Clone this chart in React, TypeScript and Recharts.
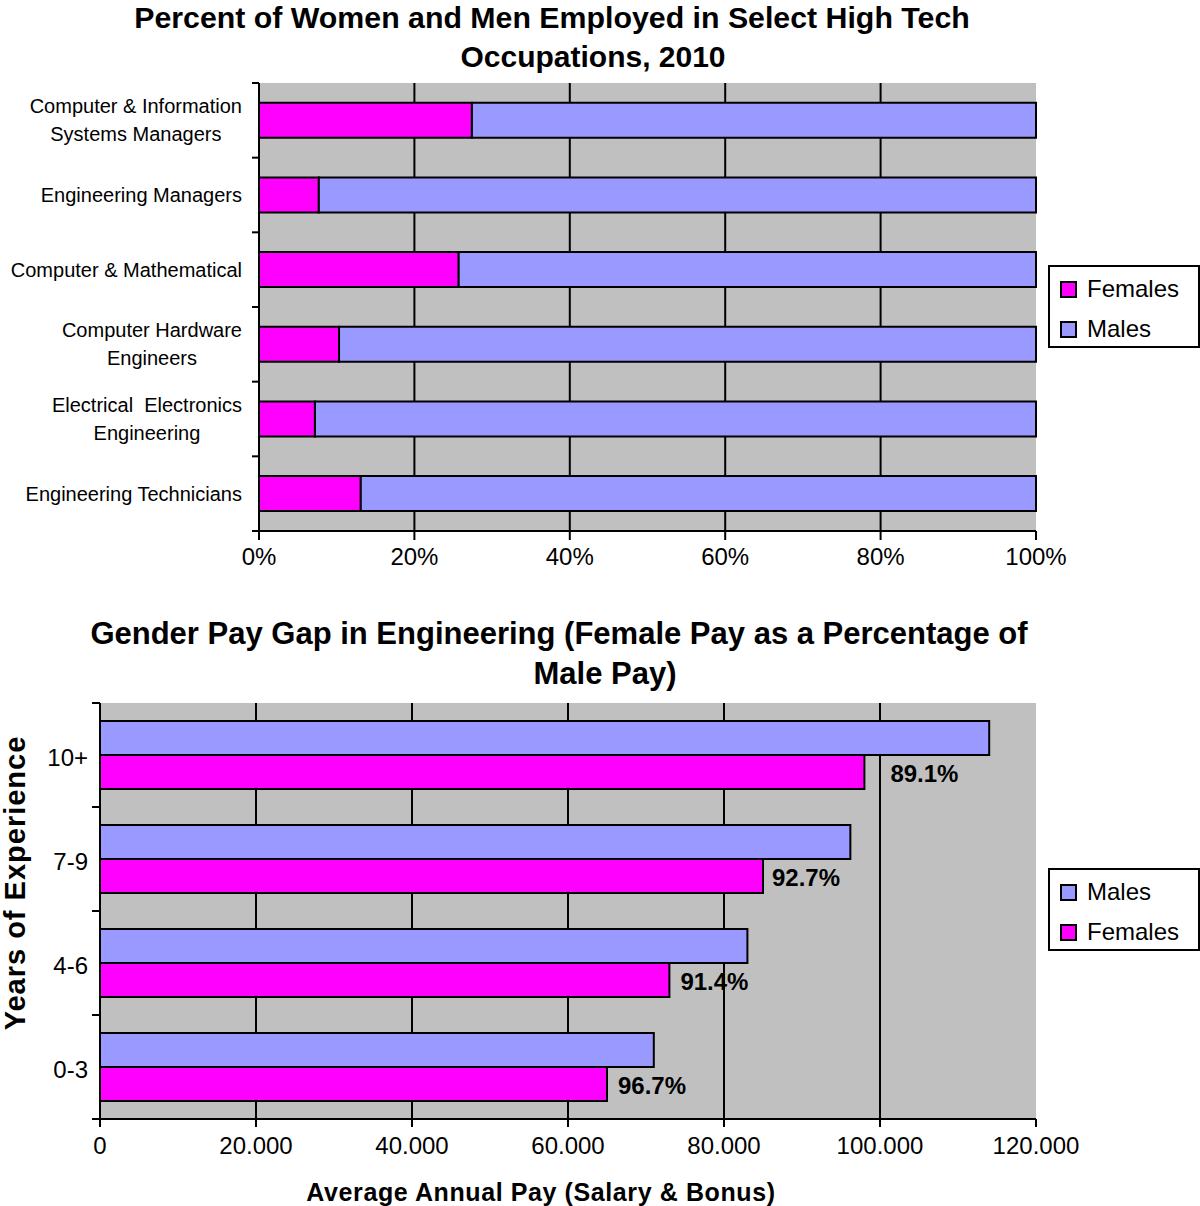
import React from "react";
import { BarChart, Bar, XAxis, YAxis, CartesianGrid, LabelList } from "recharts";

const FONT = "'Liberation Sans', Arial, Helvetica, sans-serif";
const FEMALE = "#FF00FF";
const MALE = "#9999FF";
const PLOT_BG = "#C0C0C0";

// top chart: share of employment by gender
const occupations = [
  "Computer & Information\nSystems Managers",
  "Engineering Managers",
  "Computer & Mathematical",
  "Computer Hardware\nEngineers",
  "Electrical  Electronics\nEngineering",
  "Engineering Technicians",
];
const femaleShare = [27.4, 7.7, 25.7, 10.3, 7.2, 13.1];
const maleShare = [72.6, 92.3, 74.3, 89.7, 92.8, 86.9];
const shareTicks = [0, 20, 40, 60, 80, 100];

// bottom chart: average annual pay by years of experience
const experience = ["10+", "7-9", "4-6", "0-3"];
const malePay = [114000, 96200, 83000, 71000];
const femalePay = [98000, 85000, 73000, 65000];
const payRatio = ["89.1%", "92.7%", "91.4%", "96.7%"];
const payTicks = [0, 20000, 40000, 60000, 80000, 100000, 120000];

const shareData = occupations.map((name, i) => ({
  name,
  Females: femaleShare[i],
  Males: maleShare[i],
}));

const payData = experience.map((name, i) => ({
  name,
  Males: malePay[i],
  Females: femalePay[i],
  ratio: payRatio[i],
}));

const LABEL_DX = [26, 9, 11, 11];

let ctx: CanvasRenderingContext2D | null = null;
function textWidth(s: string, font: string) {
  if (!ctx) ctx = document.createElement("canvas").getContext("2d");
  if (!ctx) return s.length * 10;
  ctx.font = font;
  return ctx.measureText(s).width;
}

function OccupationTick(props: any) {
  const { x, y, payload, index } = props;
  const band = payload.offset ? payload.offset * 2 : 448 / occupations.length;
  const lines = String(payload.value).split("\n");
  const font = `20px ${FONT}`;
  const maxW = Math.max(...lines.map((l) => textWidth(l, font)));
  const right = x - 17;
  const lineH = 28;
  const y0 = y - ((lines.length - 1) * lineH) / 2;
  return (
    <g>
      <line x1={x - 7} x2={x} y1={y - band / 2} y2={y - band / 2} stroke="#000" strokeWidth={2} />
      {index === occupations.length - 1 && (
        <line x1={x - 7} x2={x} y1={y + band / 2} y2={y + band / 2} stroke="#000" strokeWidth={2} />
      )}
      {lines.map((l, i) => (
        <text
          key={i}
          x={lines.length > 1 ? right - maxW / 2 : right}
          y={y0 + i * lineH}
          textAnchor={lines.length > 1 ? "middle" : "end"}
          dominantBaseline="central"
          fontSize={20}
          fontFamily={FONT}
          fill="#000"
          style={{ whiteSpace: "pre" }}
        >
          {l}
        </text>
      ))}
    </g>
  );
}

function ExperienceTick(props: any) {
  const { x, y, payload, index } = props;
  const band = payload.offset ? payload.offset * 2 : 416 / experience.length;
  return (
    <g>
      <line x1={x - 8} x2={x} y1={y - band / 2} y2={y - band / 2} stroke="#000" strokeWidth={2} />
      {index === experience.length - 1 && (
        <line x1={x - 8} x2={x} y1={y + band / 2} y2={y + band / 2} stroke="#000" strokeWidth={2} />
      )}
      <text
        x={x - 12}
        y={y + 2}
        textAnchor="end"
        dominantBaseline="central"
        fontSize={24}
        fontFamily={FONT}
        fill="#000"
      >
        {payload.value}
      </text>
    </g>
  );
}

function PayLabel(props: any) {
  const { x, y, width, height, index } = props;
  return (
    <text
      x={Number(x) + Number(width) + LABEL_DX[index]}
      y={Number(y) + Number(height) / 2 + 2}
      dominantBaseline="central"
      fontSize={24}
      fontWeight="bold"
      fontFamily={FONT}
      fill="#000"
    >
      {payRatio[index]}
    </text>
  );
}

function LegendBox({ top, items }: { top: number; items: { name: string; color: string }[] }) {
  return (
    <div
      style={{
        position: "absolute",
        left: 1048,
        top,
        width: 148,
        height: 79,
        border: "2px solid #000",
        background: "#fff",
        fontFamily: FONT,
        fontSize: 24,
      }}
    >
      {items.map((it, i) => (
        <div
          key={it.name}
          style={{
            position: "absolute",
            left: 10,
            top: 8 + i * 40,
            height: 28,
            display: "flex",
            alignItems: "center",
          }}
        >
          <span
            style={{
              display: "inline-block",
              width: 13,
              height: 13,
              border: "2px solid #000",
              background: it.color,
              marginRight: 10,
            }}
          />
          <span>{it.name}</span>
        </div>
      ))}
    </div>
  );
}

const innerGrid = (ticks: number[], max: number) => ({ offset }: any) =>
  ticks.slice(1, -1).map((t) => offset.left + (offset.width * t) / max);

export default function App() {
  const axisStroke = { stroke: "#000", strokeWidth: 2 };
  return (
    <div
      style={{
        position: "absolute",
        left: 0,
        top: 0,
        width: 1200,
        height: 1206,
        background: "#fff",
        overflow: "hidden",
      }}
    >
      <div style={{ position: "absolute", left: 0, top: 0 }}>
        <BarChart
          width={1200}
          height={600}
          data={shareData}
          layout="vertical"
          margin={{ top: 83, right: 164, bottom: 0, left: 0 }}
          barCategoryGap="26.5%"
        >
          <CartesianGrid
            horizontal={false}
            fill={PLOT_BG}
            stroke="#000"
            strokeWidth={2}
            verticalCoordinatesGenerator={innerGrid(shareTicks, 100)}
          />
          <XAxis
            type="number"
            domain={[0, 100]}
            ticks={shareTicks}
            tickFormatter={(v) => `${v}%`}
            height={69}
            axisLine={axisStroke}
            tickLine={axisStroke}
            tickSize={9}
            tickMargin={8}
            tick={{ fill: "#000", fontSize: 24, fontFamily: FONT }}
            interval={0}
          />
          <YAxis
            type="category"
            dataKey="name"
            width={259}
            axisLine={axisStroke}
            tickLine={false}
            tickSize={0}
            tickMargin={0}
            tick={<OccupationTick />}
            interval={0}
          />
          <Bar dataKey="Females" stackId="s" fill={FEMALE} stroke="#000" strokeWidth={2} isAnimationActive={false} />
          <Bar dataKey="Males" stackId="s" fill={MALE} stroke="#000" strokeWidth={2} isAnimationActive={false} />
        </BarChart>
      </div>

      <div style={{ position: "absolute", left: 0, top: 600 }}>
        <BarChart
          width={1200}
          height={606}
          data={payData}
          layout="vertical"
          margin={{ top: 103, right: 164, bottom: 0, left: 0 }}
          barCategoryGap="17.3%"
          barGap={0}
        >
          <CartesianGrid
            horizontal={false}
            fill={PLOT_BG}
            stroke="#000"
            strokeWidth={2}
            verticalCoordinatesGenerator={innerGrid(payTicks, 120000)}
          />
          <XAxis
            type="number"
            domain={[0, 120000]}
            ticks={payTicks}
            tickFormatter={(v) => (v === 0 ? "0" : `${v / 1000}.000`)}
            height={87}
            axisLine={axisStroke}
            tickLine={axisStroke}
            tickSize={8}
            tickMargin={10}
            tick={{ fill: "#000", fontSize: 24, fontFamily: FONT }}
            interval={0}
          />
          <YAxis
            type="category"
            dataKey="name"
            width={100}
            axisLine={axisStroke}
            tickLine={false}
            tickSize={0}
            tickMargin={0}
            tick={<ExperienceTick />}
            interval={0}
          />
          <Bar dataKey="Males" fill={MALE} stroke="#000" strokeWidth={2} isAnimationActive={false} />
          <Bar dataKey="Females" fill={FEMALE} stroke="#000" strokeWidth={2} isAnimationActive={false}>
            <LabelList dataKey="ratio" content={<PayLabel />} />
          </Bar>
        </BarChart>
      </div>

      <svg
        width={1200}
        height={1206}
        style={{ position: "absolute", left: 0, top: 0, pointerEvents: "none" }}
        fontFamily={FONT}
      >
        <g fontWeight="bold" fontSize={30} fill="#000" textAnchor="middle" dominantBaseline="central">
          <text x={552} y={17} fontSize={30.3}>Percent of Women and Men Employed in Select High Tech</text>
          <text x={593} y={56}>Occupations, 2010</text>
          <text x={559} y={633} fontSize={31}>Gender Pay Gap in Engineering (Female Pay as a Percentage of</text>
          <text x={605} y={673} fontSize={31}>Male Pay)</text>
        </g>
        <text
          x={541}
          y={1192}
          fontSize={25}
          fontWeight="bold"
          textAnchor="middle"
          dominantBaseline="central"
          letterSpacing={0.6}
        >
          Average Annual Pay (Salary &amp; Bonus)
        </text>
        <text
          x={15}
          y={883}
          fontSize={29}
          fontWeight="bold"
          textAnchor="middle"
          dominantBaseline="central"
          letterSpacing={1}
          transform="rotate(-90 15 883)"
        >
          Years of Experience
        </text>
      </svg>

      <LegendBox
        top={265}
        items={[
          { name: "Females", color: FEMALE },
          { name: "Males", color: MALE },
        ]}
      />
      <LegendBox
        top={868}
        items={[
          { name: "Males", color: MALE },
          { name: "Females", color: FEMALE },
        ]}
      />
    </div>
  );
}
